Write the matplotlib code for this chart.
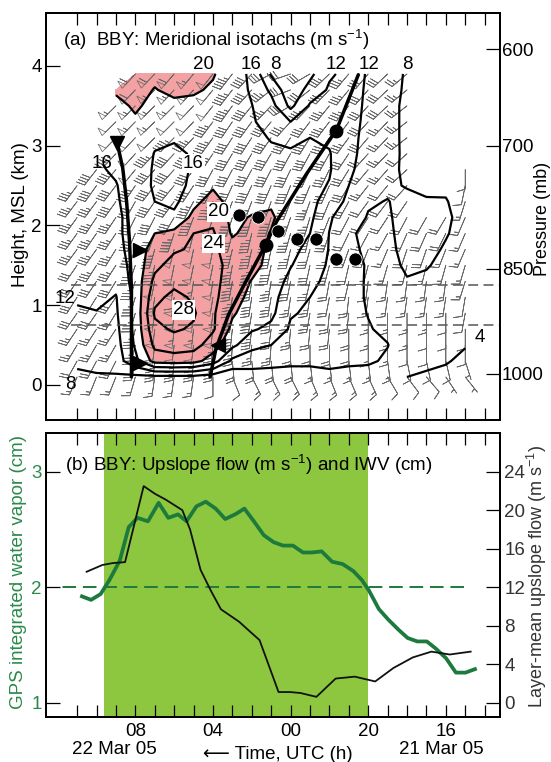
import numpy as np
import matplotlib
matplotlib.use("Agg")
import matplotlib.pyplot as plt
from matplotlib.transforms import blended_transform_factory

plt.rcParams['font.family'] = ['Liberation Sans', 'DejaVu Sans']
plt.rcParams['mathtext.fontset'] = 'custom'
plt.rcParams['mathtext.rm'] = 'Liberation Sans'
plt.rcParams['mathtext.it'] = 'Liberation Sans:italic'
plt.rcParams['mathtext.bf'] = 'Liberation Sans:bold'
plt.rcParams['mathtext.default'] = 'regular'

N = np.nan

# ---------------- panel (a): profiler time-height data ----------------
# time axis: hours after 00 UTC 21 Mar 2005 (axis runs backwards)
profile_hours = [35, 34, 33, 32, 31, 30, 29, 28, 27, 26, 25, 24, 23, 22, 21, 20, 19, 18, 17, 16, 15]
gate_heights_km = [0.1, 0.3, 0.5, 0.7, 0.9, 1.1, 1.3, 1.5, 1.7, 1.9,
                   2.1, 2.3, 2.5, 2.7, 2.9, 3.1, 3.3, 3.5, 3.7, 3.9]

# meridional wind (m/s), one list per hour (bottom -> top)
v_by_hour = [
    [7, 9, 10, 10.5, 11.5, 12.5, 13, 13, 13.5, 14, 14, 14.5, 15, N, N, N, N, N, N, N],
    [7.5, 9.5, 10.5, 11, 11.8, 13, 13.5, 14, 14, 14.5, 15, 15, 15.5, 15.5, N, N, N, N, N, N],
    [7.5, 10, 10.5, 11, 11.5, 11.8, 13, 14, 14.5, 15, 15, 15.5, 15.8, 16.5, 17, 17.5, 18, 19, 20.5, N],
    [7, 15, 16.5, 17, 17, 17, 17.5, 17.5, 18, 18, 18, 18, 18, 18.5, 19, 19, 19.5, 20.5, 21.5, 22],
    [7, 21.5, 25, 27, 28.5, 27, 25, 23, 21.5, 20, 17.5, 16, 15.5, 15.5, 15.8, 17, 18.5, 19, 19.8, 21],
    [7, 22, 26, 28.5, 30, 29, 27, 25.5, 23.5, 21, 17, 15, 14.5, 14.5, 15, 16.5, 18, 19, 21, 22],
    [7, 21.5, 25.5, 27.5, 28.5, 27.5, 26, 25, 24.5, 24, 21, 19, 17, 16.5, 16.5, 17, 18, 19, 20.5, 21.5],
    [6, 18, 22, 24.5, 24.5, 25, 25, 25, 25, 24.5, 23, 21.5, 19.5, 18.5, 18, 18, 18.5, 19, 19.5, 20.3],
    [5, 11, 17, 19, 20.5, 21.5, 22.5, 23, 21.5, 19.5, 19, 18.5, 17.5, 17, 17, 17, 17.5, 18, 18, 18],
    [6, 10, 13, 16.5, 18, 19, 19.8, 21.5, 22, 21.5, 20.3, 18.5, 17, 16.5, 16.8, 16.8, 16.4, 16.1, 15.5, 15.2],
    [6, 9.5, 12, 15, 17, 17.5, 18, 18.5, 19, 19.8, 20.5, 19.5, 18.5, 17.5, 16.5, 15.8, 14.5, 13.5, 11.2, 7.5],
    [6, 9, 10.5, 11.5, 12.3, 13.5, 15, 16.2, 17, 17.5, 18, 18, 17.5, 17, 16.5, 15, 12, 7, 5, 4.5],
    [7, 8.5, 9.5, 10.5, 11.5, 12, 13, 14, 15, 16, 16.8, 17, 17, 17, 16.5, 16, 14.5, 12.5, 9.5, 7],
    [7.5, 8.5, 9, 9.5, 10, 10.5, 11, 11.5, 11.8, 11.9, 12.5, 14.5, 15.8, 16.3, 16.2, 15.5, 14.5, 13.5, 12.5, 11.5],
    [7, 8.5, 9, 9, 9, 9, 9, 8.8, 8.5, 8.3, 9.5, 11, 12, 13, 13.5, 13.5, 13.5, 13.5, 13.5, 13],
    [6.5, 8.5, 8.3, 8.2, 7.9, 7.7, 7.7, 7.8, 7.6, 7.5, 7.8, 8.3, 9, 9.5, 10, 10.5, 11, 11.3, 11.5, 11.8],
    [5, 7.5, 8.1, 7.4, 7, 7, 7, 7, 7.2, 7.4, 7.6, 7.9, 8.5, 9, 9.3, 9.5, 9.5, 9.5, 9.5, 9.5],
    [4, 5, 6, 6.5, 6.8, 7.2, 7.8, 8.5, 9, 9.2, 9.3, 8.8, 7.8, 7.3, 7.2, 7, 7, 7, 7.4, 7.6],
    [3.5, 4.8, 5.5, 6, 6.5, 7, 7.5, 8.2, 8.8, 9, 8.8, 8.2, 7.5, 7, N, N, N, N, N, N],
    [3, 4.3, 5, 5.5, 6, 6.5, 7, 7.3, 7.7, 8.2, 8.5, 8.2, 7.4, 6.5, N, N, N, N, N, N],
    [2.5, 3.2, 4.2, 5, 5.5, 6, 6.5, 6.8, 7, 7, 7, 6.5, 5, 4, N, N, N, N, N, N],
]

# top of the plotted wind barbs for each hour (km)
barb_top_km = [2.5, 2.7, 3.5, 3.9, 3.9, 3.9, 3.9, 3.9, 3.9, 3.9, 3.9,
               3.9, 3.9, 3.9, 3.9, 3.9, 3.9, 3.9, 2.1, 2.1, 2.7]

# zonal wind (m/s), one list per gate height (hours 35 -> 15)
u_by_height = [
    [3, 3, 3, 2, 1, 1, 1, 0, -2, -3, -3, -3, -3, -3, -3, -3, -3, -3, -3, -2, -2],
    [5, 5, 5, 3, 2, 2, 2, 1, -1, -1, -1, -1, -1, -1, -1, -1, -1, -1, -1, -1, -1],
    [6, 6, 6, 4, 3, 3, 3, 2, 1, 1, 1, 0, 0, 0, 0, 0, 0, 0, 0, 0, 0],
    [7, 7, 7, 4, 3, 3, 3, 3, 2, 2, 2, 1, 1, 1, 0, 0, 0, 0, 0, 0, 0],
    [8, 8, 7, 5, 4, 3, 3, 3, 3, 3, 2, 2, 2, 1, 1, 0, 0, 0, 0, 0, 1],
    [8, 8, 8, 5, 4, 4, 4, 4, 3, 3, 3, 2, 2, 2, 1, 1, 1, 1, 1, 1, 1],
    [9, 9, 8, 6, 5, 4, 4, 4, 4, 3, 3, 3, 3, 2, 2, 1, 1, 1, 1, 1, 2],
    [9, 9, 9, 6, 5, 5, 5, 5, 4, 4, 4, 3, 3, 3, 2, 2, 2, 2, 2, 2, 2],
    [10, 10, 9, 7, 6, 6, 5, 5, 5, 5, 4, 4, 4, 3, 3, 3, 3, 3, 3, 3, 3],
    [10, 10, 10, 8, 7, 7, 6, 6, 5, 5, 5, 5, 4, 4, 4, 4, 4, 4, 4, 4, 3],
    [10, 10, 10, 9, 9, 10, 8, 7, 6, 6, 6, 6, 5, 5, 5, 5, 5, 5, 5, 5, 3],
    [11, 11, 11, 10, 11, 11, 10, 8, 7, 7, 7, 7, 6, 6, 6, 6, 6, 6, 6, 5, 2],
    [11, 11, 12, 12, 12, 12, 11, 9, 8, 8, 8, 7, 7, 7, 7, 7, 7, 7, 6, 5, 1],
    [12, 12, 14, 15, 14, 13, 12, 10, 9, 9, 9, 8, 8, 8, 8, 8, 8, 8, 6, 5, 0],
    [12, 12, 16, 17, 15, 14, 14, 12, 10, 10, 10, 9, 9, 9, 9, 9, 9, 8, 6, 5, 0],
    [12, 12, 17, 18, 17, 16, 16, 13, 11, 11, 11, 10, 10, 10, 10, 9, 9, 9, 6, 5, 0],
    [12, 12, 18, 19, 19, 18, 17, 14, 12, 12, 12, 11, 11, 11, 10, 10, 9, 9, 6, 5, 0],
    [12, 12, 19, 20, 19, 19, 18, 15, 13, 13, 13, 12, 12, 11, 11, 10, 10, 9, 6, 5, 0],
    [12, 12, 19, 20, 20, 19, 18, 16, 14, 14, 14, 13, 12, 12, 11, 10, 10, 9, 6, 5, 0],
    [12, 12, 19, 20, 20, 19, 18, 16, 14, 14, 14, 13, 12, 12, 11, 10, 10, 9, 6, 5, 0],
]

isotach_levels = [4, 8, 12, 16, 20, 24, 28]

# analysed boundaries (kinematic fronts)
front1_t = [32.95, 32.65, 32.45, 32.3, 32.2, 32.2, 32.2]
front1_h = [3.05, 2.72, 2.3, 1.8, 1.2, 0.5, 0.1]
front2_t = [28.15, 27.85, 27.2, 26.3, 25.3, 24.72, 23.17, 21.63, 20.51]
front2_h = [0.1, 0.45, 0.88, 1.3, 1.75, 2.05, 2.65, 3.2, 3.89]
tri_down_t, tri_down_h = [32.95], [3.03]
tri_right_t, tri_right_h = [31.78, 31.78], [1.69, 0.27]
tri_left_t, tri_left_h = [27.75], [0.5]
semi_t, semi_h = [25.25, 21.65], [1.76, 3.18]

# melting-level dots
melt_t = [26.65, 25.66, 24.66, 23.66, 22.67, 21.67, 20.67]
melt_h = [2.13, 2.11, 1.93, 1.83, 1.83, 1.58, 1.58]

layer_bounds_km = [0.75, 1.25]

pressure_labels = ['600', '700', '850', '1000']
pressure_heights_km = [4.21, 3.0, 1.46, 0.14]

# ---------------- panel (b) data ----------------
iwv_time = [34.75, 34.28, 33.79, 33.34, 32.80, 32.34, 31.89, 31.35, 30.80, 30.30,
            29.80, 29.36, 28.85, 28.37, 27.86, 27.37, 26.86, 26.38, 25.89, 25.38,
            24.88, 24.39, 23.88, 23.36, 22.90, 22.40, 21.86, 21.32, 20.77, 20.32,
            19.96, 19.45, 18.97, 18.43, 17.97, 17.47, 16.98, 16.53, 15.99, 15.48,
            14.99, 14.50]
iwv_cm = [1.92, 1.89, 1.94, 2.06, 2.23, 2.52, 2.60, 2.57, 2.73, 2.60,
          2.63, 2.57, 2.70, 2.74, 2.68, 2.59, 2.63, 2.68, 2.57, 2.45,
          2.39, 2.36, 2.36, 2.30, 2.30, 2.31, 2.22, 2.20, 2.14, 2.06,
          1.97, 1.81, 1.72, 1.63, 1.56, 1.53, 1.53, 1.47, 1.385, 1.26,
          1.26, 1.29]

flow_time = [34.51, 33.70, 33.16, 32.53, 31.57, 30.99, 30.44, 29.58, 29.18, 28.64,
             28.10, 27.59, 27.01, 26.65, 26.10, 25.60, 24.62, 24.03, 23.49, 22.67,
             21.68, 20.69, 19.64, 18.70, 17.70, 16.74, 15.80, 14.72]
flow_ms = [13.6, 14.3, 14.5, 14.6, 22.5, 21.7, 21.1, 20.0, 18.0, 13.8,
           11.6, 9.7, 8.9, 8.4, 7.4, 6.5, 1.1, 1.1, 1.0, 0.6,
           2.5, 2.7, 2.2, 3.6, 4.7, 5.3, 5.0, 5.3]

rain_period = (20.0, 33.6)
iwv_threshold = 2.0
threshold_span = (15.05, 36.1)

tick_hours = [32, 28, 24, 20, 16]
tick_labels = ['08', '04', '00', '20', '16']

# ---------------- styling ----------------
PINK = '#f3a1a3'
SHADE = '#8dc63f'
GREEN = '#1c7a3c'
GREEN_TXT = '#2a8a4a'
FS = 13.5
XLIM = (36.62, 13.21)

fig = plt.figure(figsize=(5.51, 7.62), dpi=100)

# ================= panel (a) =================
axa = fig.add_axes([0.0829, 0.4488, 0.8245, 0.5337])
T, H = np.meshgrid(profile_hours, gate_heights_km)
V = np.ma.masked_invalid(np.array(v_by_hour, dtype=float).T)
U = np.ma.array(np.array(u_by_height, dtype=float), mask=V.mask)
barb_mask = V.mask | (H > np.array(barb_top_km)[None, :] + 0.01)
Vb = np.ma.array(V.filled(0), mask=barb_mask)
Ub = np.ma.array(U.filled(0), mask=barb_mask)

axa.contourf(T, H, V, levels=[20, 60], colors=[PINK], zorder=1)
axa.barbs(T, H, Ub, Vb, length=5.3, pivot='tip', barbcolor='#6a6a6a', flagcolor='none',
          linewidth=0.55, barb_increments=dict(half=2.5, full=5, flag=25),
          sizes=dict(emptybarb=0.0, spacing=0.16, height=0.42), zorder=2)
axa.contour(T, H, V, levels=isotach_levels, colors='k', linewidths=1.6, zorder=3)

for hb in layer_bounds_km:
    axa.axhline(hb, xmin=(XLIM[0] - 35.3) / (XLIM[0] - XLIM[1]), xmax=1, color='#555555',
                lw=1.1, linestyle=(0, (6.5, 3.5)), zorder=3)

axa.plot(front1_t, front1_h, color='k', lw=2.5, zorder=4, solid_capstyle='round')
axa.plot(front2_t, front2_h, color='k', lw=2.5, zorder=4, solid_capstyle='round')
axa.plot(tri_down_t, tri_down_h, 'v', color='k', ms=10, zorder=5)
axa.plot(tri_right_t, tri_right_h, '>', color='k', ms=10, zorder=5)
axa.plot(tri_left_t, tri_left_h, '<', color='k', ms=10, zorder=5)
axa.plot(semi_t, semi_h, 'o', color='k', ms=9, zorder=5)
axa.plot(melt_t, melt_h, 'o', color='k', ms=9.5, mec='white', mew=0.6, zorder=5)

# contour value labels
top_labels = [(28.47, '20'), (26.02, '16'), (24.8, '8'), (21.65, '12'), (19.97, '12'), (18.0, '8')]
for tt, s in top_labels:
    axa.text(tt, 4.02, s, fontsize=FS, ha='center', va='center', zorder=6)
side_labels = [(33.74, 2.78, '16'), (35.63, 1.09, '12'), (35.37, 0.0, '8'), (14.24, 0.6, '4')]
for tt, hh, s in side_labels:
    axa.text(tt, hh, s, fontsize=FS, ha='center', va='center', zorder=6)
box_labels = [(29.02, 2.78, '16'), (27.73, 2.17, '20'), (27.98, 1.77, '24'), (29.53, 0.94, '28')]
for tt, hh, s in box_labels:
    axa.text(tt, hh, s, fontsize=FS, ha='center', va='center', zorder=6,
             bbox=dict(boxstyle='square,pad=0.06', fc='white', ec='none'))

axa.text(0.038, 0.934, r'(a)  BBY: Meridional isotachs (m s$^{-1}$)', transform=axa.transAxes,
         fontsize=FS, ha='left', va='center')

axa.set_xlim(*XLIM)
axa.set_ylim(-0.44, 4.66)
axa.set_xticks(range(14, 36))
axa.set_xticklabels([])
axa.set_yticks([0, 1, 2, 3, 4])
axa.tick_params(axis='x', direction='in', length=8.5, width=0.9, top=True, bottom=True)
axa.tick_params(axis='y', direction='in', length=10, width=0.9, left=True, right=False,
                labelsize=FS, pad=3)
for sp in axa.spines.values():
    sp.set_linewidth(1.3)

axp = axa.twinx()
axp.set_ylim(-0.44, 4.66)
axp.set_yticks(pressure_heights_km)
axp.set_yticklabels(pressure_labels)
axp.tick_params(axis='y', direction='in', length=10, width=0.9, labelsize=FS, pad=1.5)
for sp in axp.spines.values():
    sp.set_linewidth(1.3)

fig.text(0.038, 0.718, 'Height, MSL (km)', rotation=90, ha='center', va='center', fontsize=FS)
fig.text(0.984, 0.713, 'Pressure (mb)', rotation=90, ha='center', va='center', fontsize=13)

# ================= panel (b) =================
axb = fig.add_axes([0.0829, 0.0591, 0.8245, 0.3727])
axb.axvspan(rain_period[0], rain_period[1], color=SHADE, lw=0, zorder=0)
axb.hlines(iwv_threshold, threshold_span[0], threshold_span[1], colors=GREEN,
           linestyles=(0, (7, 3.5)), lw=1.4, zorder=2)
axb.plot(iwv_time, iwv_cm, color=GREEN, lw=2.7, zorder=3, solid_joinstyle='round')
axb.set_xlim(*XLIM)
axb.set_ylim(0.876, 3.335)
axb.set_yticks([1, 2, 3])
axb.set_xticks(range(14, 36))
lab = {h: s for h, s in zip(tick_hours, tick_labels)}
axb.set_xticklabels([lab.get(h, '') for h in range(14, 36)])
axb.tick_params(axis='x', direction='in', length=8.5, width=0.9, top=True, bottom=True,
                labelsize=FS, pad=4)
axb.tick_params(axis='y', direction='in', length=10, width=0.9, labelsize=FS, pad=3,
                labelcolor=GREEN_TXT)
for sp in axb.spines.values():
    sp.set_linewidth(1.3)

axf = axb.twinx()
axf.plot(flow_time, flow_ms, color='#111111', lw=1.3, zorder=4)
axf.set_ylim(-1.49, 28.02)
axf.set_yticks([0, 4, 8, 12, 16, 20, 24])
axf.tick_params(axis='y', direction='in', length=10, width=0.9, labelsize=FS, pad=3,
                labelcolor='#333333')
for sp in axf.spines.values():
    sp.set_linewidth(1.3)

axb.text(0.042, 0.887, r'(b) BBY: Upslope flow (m s$^{-1}$) and IWV (cm)', transform=axb.transAxes,
         fontsize=FS, ha='left', va='center', zorder=6)

tr = blended_transform_factory(axb.transData, axb.transAxes)
axb.text(33.1, -0.115, '22 Mar 05', transform=tr, ha='center', va='center', fontsize=FS)
axb.text(16.25, -0.115, '21 Mar 05', transform=tr, ha='center', va='center', fontsize=FS)
axb.text(24.65, -0.132, '\u27f5 Time, UTC (h)', transform=tr, ha='center', va='center',
         fontsize=FS, family=['Liberation Sans', 'DejaVu Sans'])

fig.text(0.034, 0.249, 'GPS integrated water vapor (cm)', rotation=90, ha='center', va='center',
         fontsize=FS, color=GREEN_TXT)
fig.text(0.975, 0.244, r'Layer-mean upslope flow (m s$^{-1}$)', rotation=90, ha='center',
         va='center', fontsize=13, color='#333333')

fig.savefig('out.png', dpi=100)
